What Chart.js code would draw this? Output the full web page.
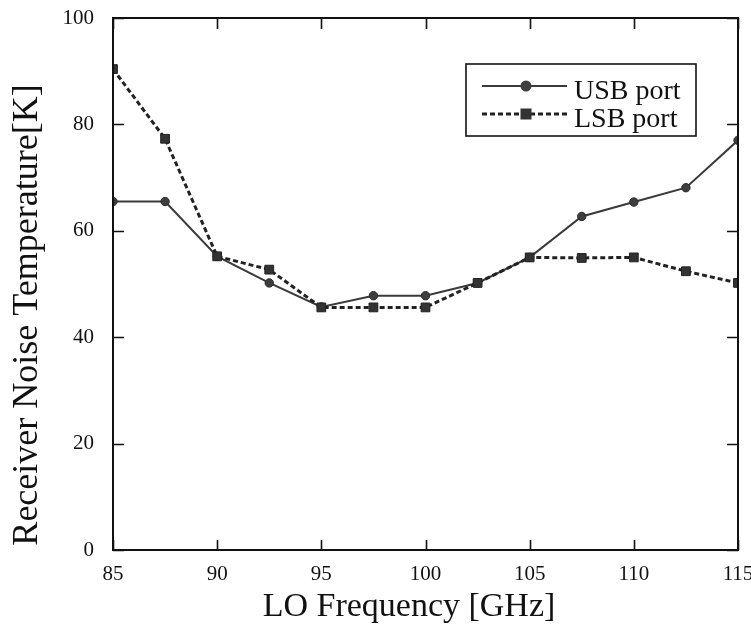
<!DOCTYPE html>
<html>
<head>
<meta charset="utf-8">
<script src="https://cdn.jsdelivr.net/npm/chart.js@4/dist/chart.umd.min.js"></script>
<style>
html,body{margin:0;padding:0;background:#fff;}
canvas{display:block;}
</style>
</head>
<body>
<canvas id="c" width="751" height="629"></canvas>
<script>
const freqs = [85, 87.5, 90, 92.5, 95, 97.5, 100, 102.5, 105, 107.5, 110, 112.5, 115];
const usbPort = [65.5, 65.5, 55.2, 50.2, 45.7, 47.8, 47.8, 50.2, 55, 62.7, 65.4, 68.1, 77];
const lsbPort = [90.4, 77.3, 55.2, 52.7, 45.6, 45.6, 45.6, 50.2, 55, 54.9, 55, 52.4, 50.2];
const seriesNames = ['USB port', 'LSB port'];
const xTitle = 'LO Frequency [GHz]';
const yTitle = 'Receiver Noise Temperature[K]';
const xTicks = [85, 90, 95, 100, 105, 110, 115];
const yTicks = [0, 20, 40, 60, 80, 100];

const FONT = '"Liberation Serif", "Times New Roman", serif';

const toPts = arr => arr.map((v, i) => ({x: freqs[i], y: v}));

const framePlugin = {
  id: 'frame',
  afterDraw(chart) {
    const ctx = chart.ctx;
    const a = chart.chartArea;
    const xs = chart.scales.x, ys = chart.scales.y;
    ctx.save();
    // frame
    ctx.strokeStyle = '#111';
    ctx.lineWidth = 2;
    ctx.strokeRect(a.left, a.top, a.right - a.left, a.bottom - a.top);
    // inward ticks
    ctx.lineWidth = 1.6;
    ctx.beginPath();
    xTicks.forEach(v => {
      const px = Math.round(xs.getPixelForValue(v)) + 0.5;
      ctx.moveTo(px, a.bottom); ctx.lineTo(px, a.bottom - 10);
      ctx.moveTo(px, a.top); ctx.lineTo(px, a.top + 11);
    });
    yTicks.forEach(v => {
      const py = Math.round(ys.getPixelForValue(v)) + 0.5;
      ctx.moveTo(a.left, py); ctx.lineTo(a.left + 11, py);
      ctx.moveTo(a.right, py); ctx.lineTo(a.right - 11, py);
    });
    ctx.stroke();

    // axis titles
    ctx.fillStyle = '#111';
    ctx.font = '34px ' + FONT;
    ctx.textAlign = 'center';
    ctx.textBaseline = 'alphabetic';
    ctx.fillText(xTitle, 409, 616);
    ctx.save();
    ctx.translate(37, 315);
    ctx.rotate(-Math.PI / 2);
    ctx.font = '36px ' + FONT;
    ctx.fillText(yTitle, 0, 0);
    ctx.restore();

    // legend
    const lx = 466, ly = 64, lw = 230, lh = 72;
    ctx.fillStyle = '#fff';
    ctx.fillRect(lx, ly, lw, lh);
    ctx.strokeStyle = '#111';
    ctx.lineWidth = 1.6;
    ctx.strokeRect(lx, ly, lw, lh);
    const ds = chart.data.datasets;
    const rows = [86, 114];
    rows.forEach((ry, i) => {
      const d = ds[i];
      ctx.save();
      ctx.strokeStyle = d.borderColor;
      ctx.lineWidth = d.borderWidth;
      ctx.setLineDash(d.borderDash || []);
      ctx.beginPath();
      ctx.moveTo(482, ry); ctx.lineTo(567, ry);
      ctx.stroke();
      ctx.setLineDash([]);
      ctx.fillStyle = d.pointBackgroundColor;
      if (d.pointStyle === 'rect') {
        ctx.fillRect(526 - 5.5, ry - 5.5, 11, 11);
      } else {
        ctx.beginPath(); ctx.arc(526, ry, 5.5, 0, Math.PI * 2); ctx.fill();
      }
      ctx.restore();
      ctx.fillStyle = '#111';
      ctx.font = '28px ' + FONT;
      ctx.textAlign = 'left';
      ctx.textBaseline = 'alphabetic';
      ctx.fillText(seriesNames[i], 574, ry + 13);
    });
    ctx.restore();
  }
};

new Chart(document.getElementById('c'), {
  type: 'line',
  data: {
    datasets: [
      {
        label: seriesNames[0],
        data: toPts(usbPort),
        borderColor: '#3a3a3a',
        borderWidth: 2,
        pointStyle: 'circle',
        pointRadius: 4.2,
        pointBackgroundColor: '#3e3e3e',
        pointBorderColor: '#2a2a2a',
        pointBorderWidth: 1,
        tension: 0,
        order: 2
      },
      {
        label: seriesNames[1],
        data: toPts(lsbPort),
        borderColor: '#222',
        borderWidth: 3,
        borderDash: [5, 3],
        pointStyle: 'rect',
        pointRadius: 6.2,
        pointBackgroundColor: '#333',
        pointBorderColor: '#222',
        pointBorderWidth: 1,
        tension: 0,
        order: 1
      }
    ]
  },
  options: {
    responsive: false,
    animation: false,
    devicePixelRatio: 1,
    layout: { padding: { top: 18, right: 13, left: 0, bottom: 0 } },
    plugins: { legend: { display: false }, tooltip: { enabled: false } },
    scales: {
      x: {
        type: 'linear',
        min: 85, max: 115,
        afterBuildTicks: s => { s.ticks = xTicks.map(v => ({value: v})); },
        ticks: { color: '#111', font: { family: FONT, size: 21 }, padding: 12, maxRotation: 0, autoSkip: false },
        grid: { display: false, drawTicks: false },
        border: { display: false },
        afterFit: s => { s.height = 79; s.paddingLeft = 0; s.paddingRight = 0; }
      },
      y: {
        type: 'linear',
        min: 0, max: 100,
        afterBuildTicks: s => { s.ticks = yTicks.map(v => ({value: v})); },
        ticks: { color: '#111', font: { family: FONT, size: 21 }, padding: 19 },
        grid: { display: false, drawTicks: false },
        border: { display: false },
        afterFit: s => { s.width = 113; s.paddingTop = 0; s.paddingBottom = 0; }
      }
    }
  },
  plugins: [framePlugin]
});
</script>
</body>
</html>
